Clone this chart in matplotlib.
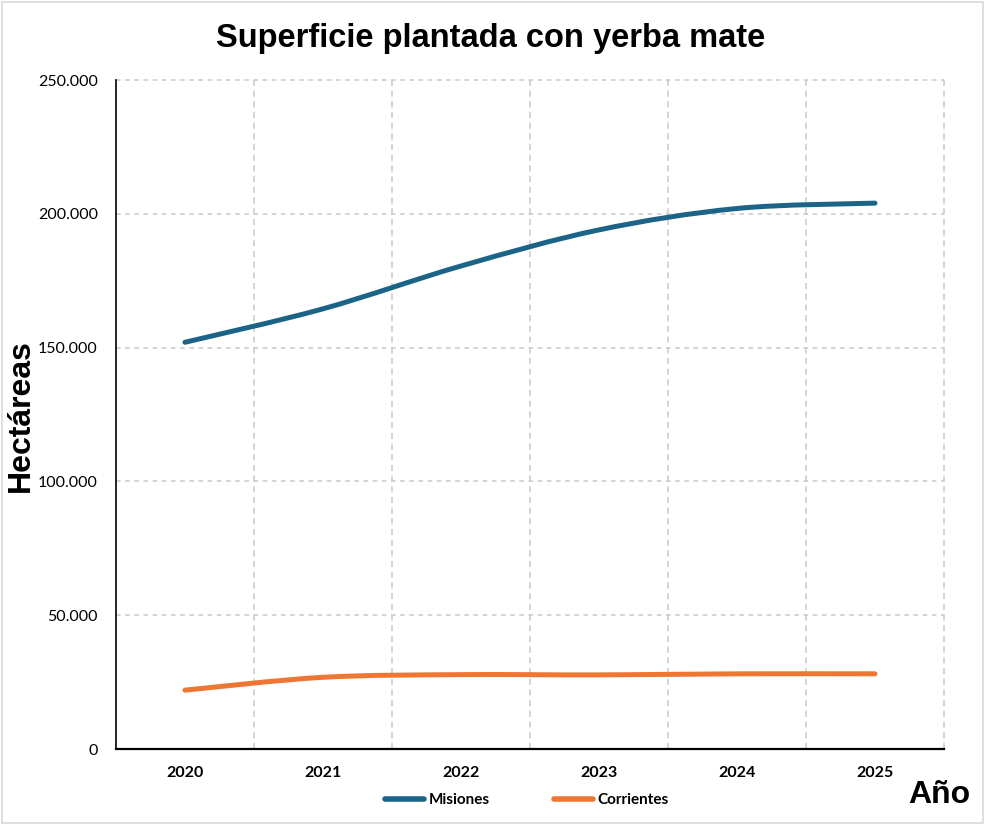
import numpy as np
import matplotlib
matplotlib.use("Agg")
import matplotlib.pyplot as plt
from matplotlib.path import Path
from matplotlib.patches import PathPatch, Rectangle
from matplotlib.lines import Line2D
from matplotlib.ticker import FuncFormatter

# data (hectáreas)
years = ["2020", "2021", "2022", "2023", "2024", "2025"]
misiones = [152000, 164500, 180500, 194000, 202000, 204000]
corrientes = [22000, 26800, 27800, 27700, 28100, 28100]

c_mis = "#1b6488"
c_cor = "#ed7633"
grid_c = "#c9c9c9"
tick_font = "Lato"


def smooth_path(xs, ys, tension=1 / 6):
    # Excel-style smoothed line: cubic bezier between data points
    pts = np.column_stack([xs, ys]).astype(float)
    verts = [pts[0]]
    codes = [Path.MOVETO]
    n = len(pts)
    for i in range(n - 1):
        p0 = pts[i - 1] if i > 0 else pts[i]
        p1 = pts[i]
        p2 = pts[i + 1]
        p3 = pts[i + 2] if i + 2 < n else pts[i + 1]
        c1 = p1 + (p2 - p0) * tension
        c2 = p2 - (p3 - p1) * tension
        verts += [c1, c2, p2]
        codes += [Path.CURVE4] * 3
    return Path(verts, codes)


fig = plt.figure(figsize=(9.86, 8.26), dpi=100)
ax = fig.add_axes([0.1176, 0.0932, 0.9574 - 0.1176, 0.9031 - 0.0932])

x = np.arange(len(years))
for vals, col in [(misiones, c_mis), (corrientes, c_cor)]:
    patch = PathPatch(smooth_path(x, vals), facecolor="none", edgecolor=col,
                      lw=3.6, capstyle="round", joinstyle="round", zorder=3)
    ax.add_patch(patch)

ax.set_xlim(-0.5, len(years) - 0.5)
ax.set_ylim(0, 250000)
ax.set_yticks(np.arange(0, 250001, 50000))
ax.yaxis.set_major_formatter(FuncFormatter(lambda v, p: f"{int(v):,}".replace(",", ".")))
ax.set_xticks(x)
ax.set_xticklabels(years, fontfamily=tick_font, fontweight="bold", fontsize=11.5)
for lab in ax.get_yticklabels():
    lab.set_fontfamily(tick_font)
    lab.set_fontsize(11.5)
ax.tick_params(axis="both", length=0)
ax.tick_params(axis="x", pad=12)
ax.tick_params(axis="y", pad=13)

# gridlines
for yv in np.arange(50000, 250001, 50000):
    ax.axhline(yv, color=grid_c, lw=1.1, ls=(0, (3, 3)), zorder=1, clip_on=False)
for xv in np.arange(0.5, len(years), 1.0):
    ax.axvline(xv, color=grid_c, lw=1.1, ls=(0, (4, 3)), zorder=1, clip_on=False)

for s in ["top", "right"]:
    ax.spines[s].set_visible(False)
ax.spines["left"].set_linewidth(1.2)
ax.spines["bottom"].set_linewidth(1.6)

fig.text(0.498, 0.953, "Superficie plantada con yerba mate", ha="center", va="center",
         fontfamily="Liberation Sans", fontweight="bold", fontsize=23.5)
fig.text(0.021, 0.497, "Hectáreas", rotation=90, ha="center", va="center",
         fontfamily="Liberation Sans", fontweight="bold", fontsize=23)
fig.text(0.9845, 0.037, "Año", ha="right", va="center",
         fontfamily="Liberation Sans", fontweight="bold", fontsize=23)

handles = [Line2D([], [], color=c_mis, lw=4, solid_capstyle="round"),
           Line2D([], [], color=c_cor, lw=4, solid_capstyle="round")]
fig.legend(handles, ["Misiones", "Corrientes"], loc="center", bbox_to_anchor=(0.534, 0.031),
           ncol=2, frameon=False, handlelength=2.6, handletextpad=0.25, columnspacing=4.2,
           prop={"family": tick_font, "weight": "bold", "size": 11})

# light frame around the whole picture
fig.patches.append(Rectangle((0.002, 0.004), 0.995, 0.993, transform=fig.transFigure,
                             fill=False, edgecolor="#d9d9d9", lw=1.2))

fig.savefig("out.png", dpi=100)
